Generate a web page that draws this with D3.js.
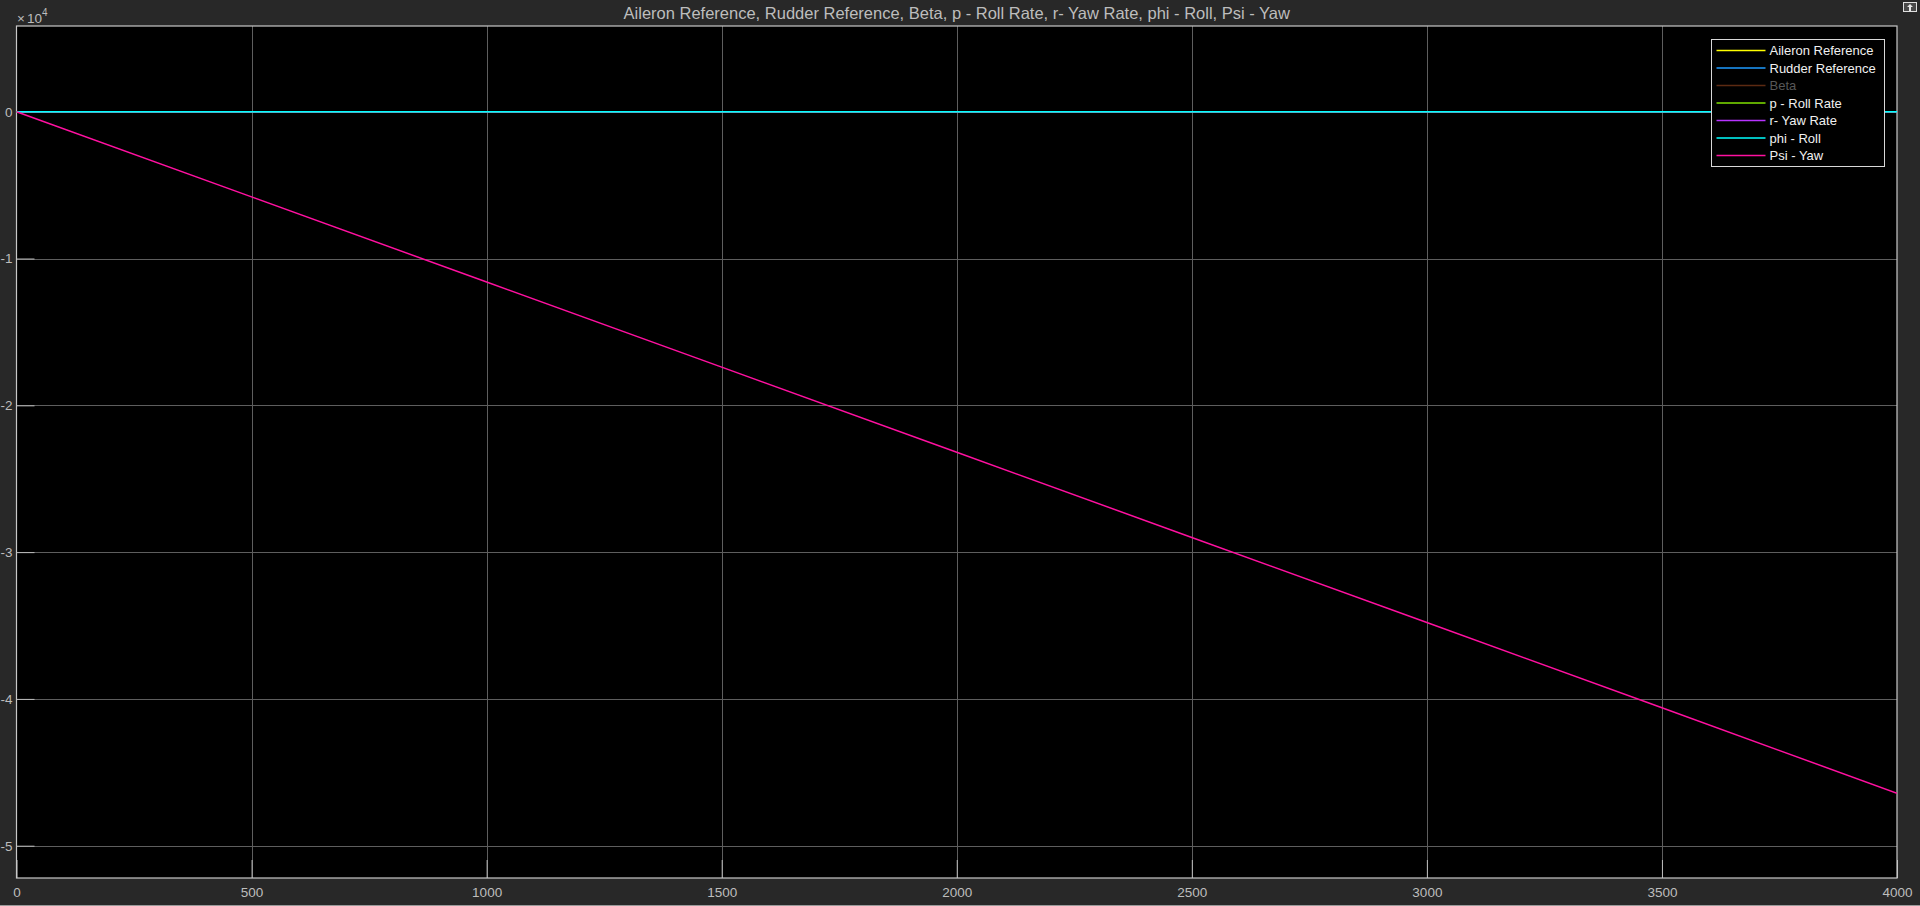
<!DOCTYPE html>
<html>
<head>
<meta charset="utf-8">
<script src="https://cdn.jsdelivr.net/npm/d3@7"></script>
<style>
  html, body { margin: 0; padding: 0; background: #282828; overflow: hidden; }
  text { font-family: "Liberation Sans", Arial, sans-serif; }
</style>
</head>
<body>
<div class="container"></div>
<script>
// time steps and signal values (all at 500 s spacing)
const time = [0, 500, 1000, 1500, 2000, 2500, 3000, 3500, 4000];
const aileronRef = [0, 0, 0, 0, 0, 0, 0, 0, 0];
const rudderRef = [0, 0, 0, 0, 0, 0, 0, 0, 0];
const beta = [0, 0, 0, 0, 0, 0, 0, 0, 0];
const rollRate = [0, 0, 0, 0, 0, 0, 0, 0, 0];
const yawRate = [0, 0, 0, 0, 0, 0, 0, 0, 0];
const phiRoll = [0, 0, 0, 0, 0, 0, 0, 0, 0];
const psiYaw = [0, -5800, -11600, -17400, -23200, -29000, -34800, -40600, -46430];

const names = ["Aileron Reference", "Rudder Reference", "Beta", "p - Roll Rate", "r- Yaw Rate", "phi - Roll", "Psi - Yaw"];
const colors = ["#ffff00", "#1e9bff", "#5c2a12", "#7fe000", "#b733ff", "#00ffff", "#ff10a0"];
const xTicks = [0, 500, 1000, 1500, 2000, 2500, 3000, 3500, 4000];
const yTicks = [0, -1, -2, -3, -4, -5];

const w = 1920;
const h = 906;
const padL = 16.5, padR = 1897, padT = 26, padB = 878;

const svg = d3.select(".container")
              .append("svg")
              .attr("width", w)
              .attr("height", h)
              .style("background-color", "#282828");

const x = d3.scaleLinear().domain([0, 4000]).range([padL, padR]);
const y = d3.scaleLinear().domain([-52200, 5840]).range([padB, padT]);

// plot area
svg.append("rect")
   .attr("x", padL).attr("y", padT)
   .attr("width", padR - padL).attr("height", padB - padT)
   .attr("fill", "#000");

// grid
const grid = svg.append("g").attr("class", "grid");
grid.selectAll(".vg").data(xTicks.slice(1, -1)).enter()
    .append("line")
    .attr("x1", d => Math.round(x(d)) + 0.5).attr("x2", d => Math.round(x(d)) + 0.5)
    .attr("y1", padT).attr("y2", padB)
    .attr("stroke", "#5e5e5e").attr("stroke-width", 1);
grid.selectAll(".hg").data(yTicks).enter()
    .append("line")
    .attr("x1", padL).attr("x2", padR)
    .attr("y1", d => Math.round(y(d * 1e4)) + 0.5).attr("y2", d => Math.round(y(d * 1e4)) + 0.5)
    .attr("stroke", "#5e5e5e").attr("stroke-width", 1);

// axes (ticks point inward like matlab)
const xAxis = d3.axisBottom(x).tickValues(xTicks).tickFormat(d3.format("d"))
                .tickSizeInner(-18).tickSizeOuter(0).tickPadding(9);
svg.append("g")
   .attr("id", "x-axis")
   .attr("transform", `translate(0, ${padB})`)
   .call(xAxis);

const yAxis = d3.axisLeft(y).tickValues(yTicks.map(d => d * 1e4)).tickFormat(d => d / 1e4)
                .tickSizeInner(-18).tickSizeOuter(0).tickPadding(4);
svg.append("g")
   .attr("id", "y-axis")
   .attr("transform", `translate(${padL}, 0)`)
   .call(yAxis);

svg.selectAll("#x-axis, #y-axis").selectAll(".domain").remove();
svg.selectAll("#x-axis .tick line, #y-axis .tick line").attr("stroke", "#bdbdbd");
svg.selectAll("#x-axis text, #y-axis text")
   .attr("fill", "#bdbdbd")
   .style("font-size", "13.5px")
   .style("font-family", "'Liberation Sans', Arial, sans-serif");

// axes box
svg.append("rect")
   .attr("x", padL).attr("y", padT)
   .attr("width", padR - padL).attr("height", padB - padT)
   .attr("fill", "none").attr("stroke", "#c8c8c8").attr("stroke-width", 1.2);

// lines
const series = [aileronRef, rudderRef, beta, rollRate, yawRate, phiRoll, psiYaw];
const line = d3.line().x((d, i) => x(time[i])).y(d => y(d));
svg.append("clipPath").attr("id", "clip")
   .append("rect").attr("x", padL).attr("y", padT).attr("width", padR - padL).attr("height", padB - padT);
const plot = svg.append("g").attr("clip-path", "url(#clip)");
plot.selectAll("path")
    .data(series).enter()
    .append("path")
    .attr("d", d => line(d))
    .attr("fill", "none")
    .attr("stroke", (d, i) => colors[i])
    .attr("stroke-width", 1.5);

// exponent label
const expo = svg.append("text")
                .attr("x", 17).attr("y", 23)
                .attr("fill", "#bdbdbd")
                .style("font-size", "13.5px");
expo.append("tspan").text("\u00d7");
expo.append("tspan").attr("dx", 2).text("10");
expo.append("tspan").attr("dy", -7).style("font-size", "10px").text("4");

// title
svg.append("text")
   .attr("id", "title")
   .attr("x", (padL + padR) / 2).attr("y", 19)
   .attr("text-anchor", "middle")
   .attr("fill", "#bdbdbd")
   .style("font-size", "16.5px")
   .text("Aileron Reference, Rudder Reference, Beta, p - Roll Rate, r- Yaw Rate, phi - Roll, Psi - Yaw");

// legend
const lg = svg.append("g").attr("id", "legend").attr("transform", "translate(1711.5, 39.5)");
lg.append("rect")
  .attr("width", 173).attr("height", 127)
  .attr("fill", "#000").attr("stroke", "#d8d8d8").attr("stroke-width", 1);
const rows = lg.selectAll(".row").data(names).enter()
               .append("g")
               .attr("transform", (d, i) => `translate(0, ${11 + i * 17.5})`);
rows.append("line")
    .attr("x1", 5).attr("x2", 54)
    .attr("stroke", (d, i) => colors[i]).attr("stroke-width", 1.5);
rows.append("text")
    .attr("x", 58).attr("dy", "0.35em")
    .attr("fill", (d, i) => i == 2 ? "#575757" : "#f0f0f0")
    .style("font-size", "13px")
    .text(d => d);

// little undock icon top right
const ic = svg.append("g").attr("transform", "translate(1903, 2)");
ic.append("rect").attr("x", 0.5).attr("y", 0.5).attr("width", 13).attr("height", 9)
  .attr("fill", "#4a4a4a").attr("stroke", "#e0e0e0").attr("stroke-width", 1);
ic.append("path").attr("d", "M7 2 L10 5 L8 5 L8 9 L6 9 L6 5 L4 5 Z").attr("fill", "#e8e8e8");

// bottom border
svg.append("line").attr("x1", 0).attr("x2", w).attr("y1", 905.5).attr("y2", 905.5)
   .attr("stroke", "#9a9a9a");
</script>
</body>
</html>
